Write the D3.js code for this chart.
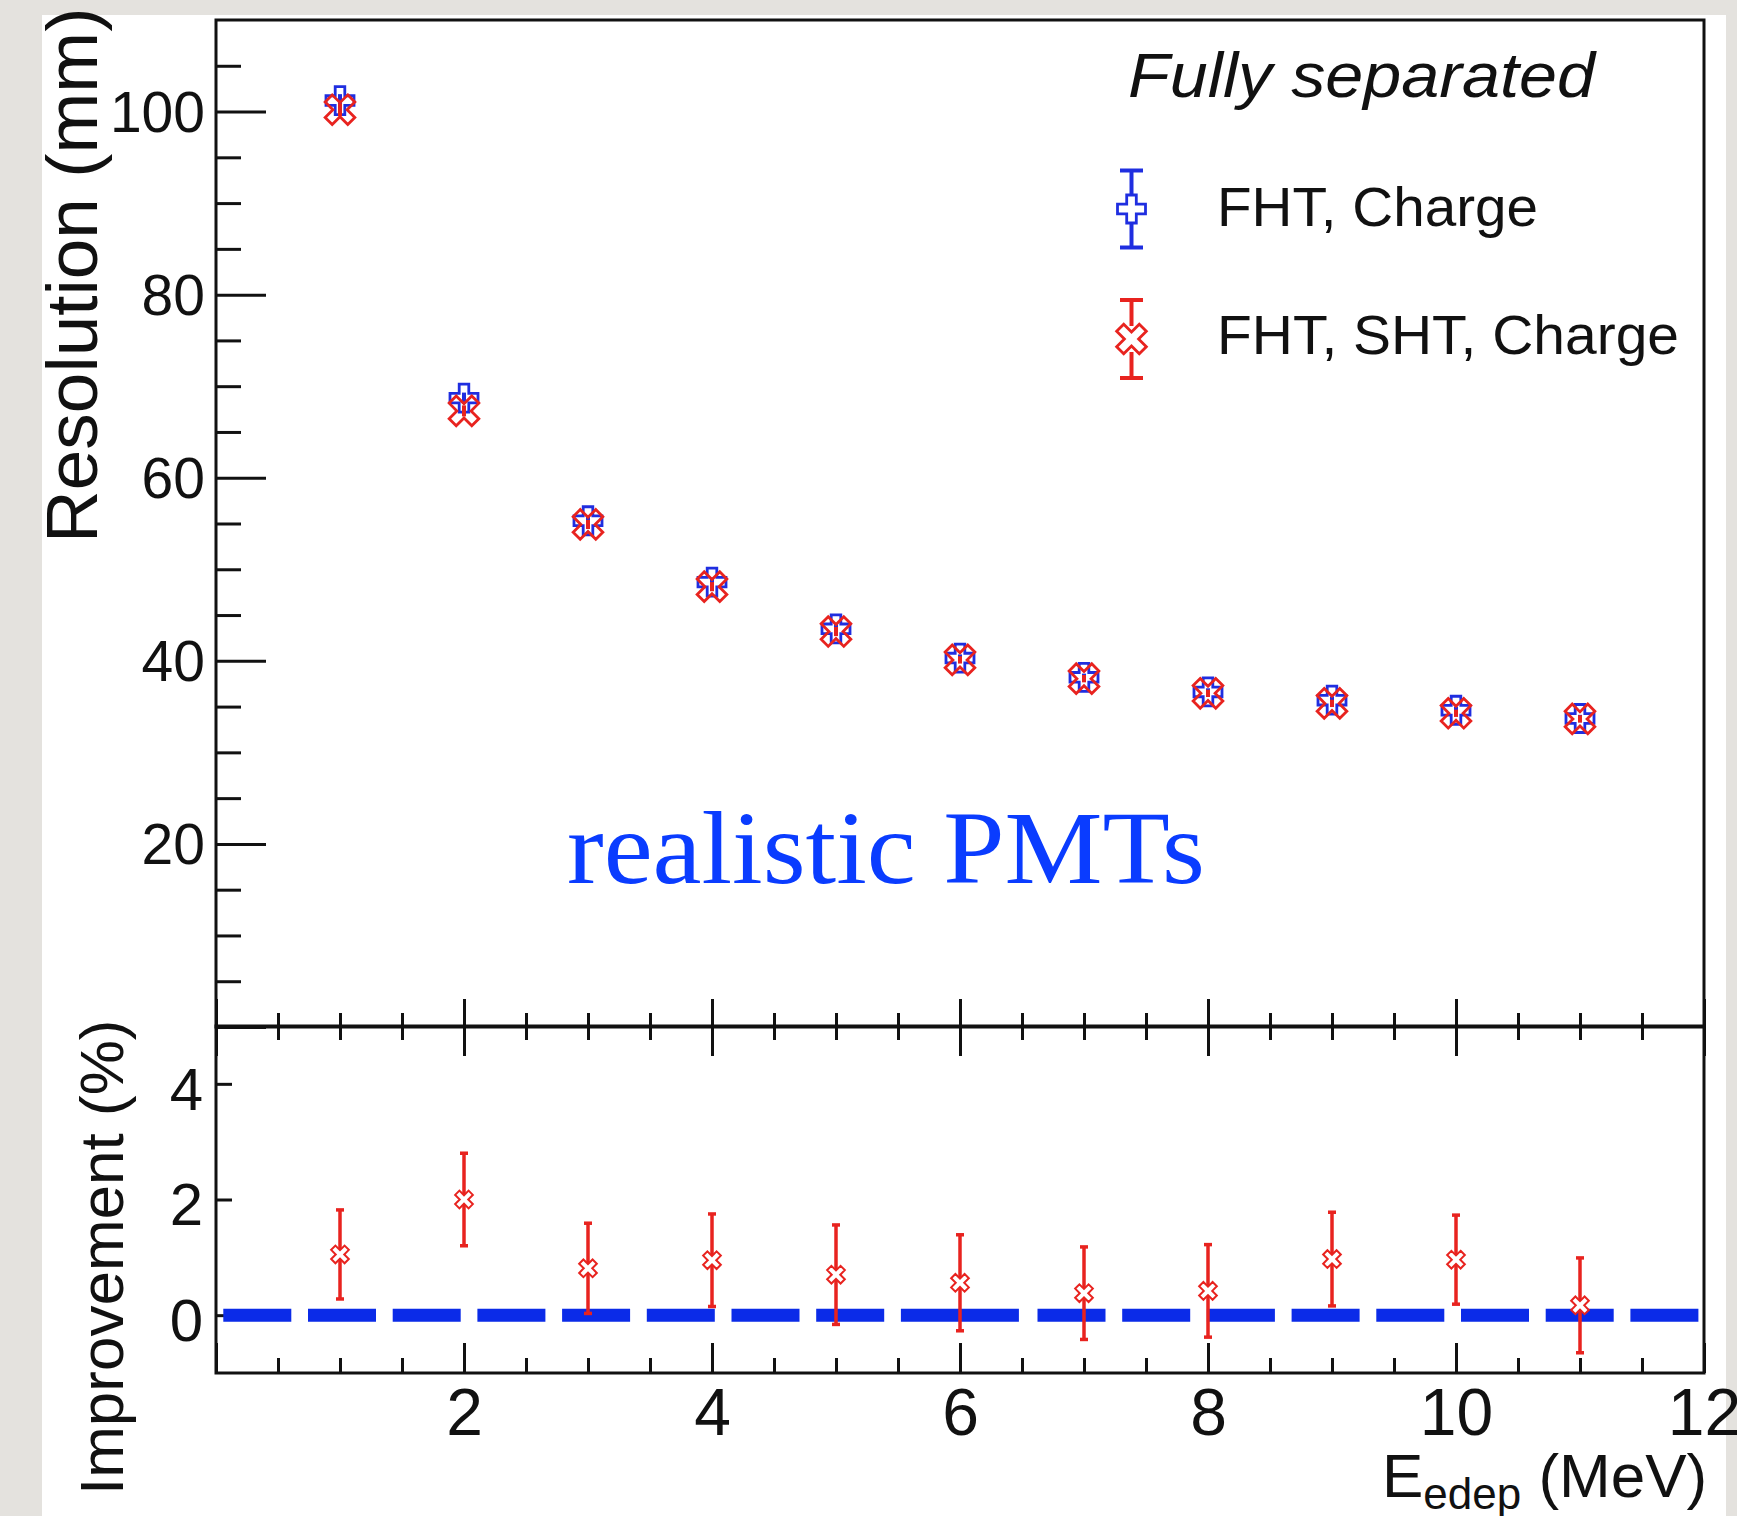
<!DOCTYPE html>
<html>
<head>
<meta charset="utf-8">
<script src="https://cdn.jsdelivr.net/npm/d3@7"></script>
<style>
  body { margin: 0; background: #e4e2de; }
  svg { display: block; }
  text { font-family: "Liberation Sans", Arial, Helvetica, sans-serif; fill: #111; }
</style>
</head>
<body>
<svg id="chart" width="1737" height="1516"></svg>
<script>
// ---- data ----
const energies = [1, 2, 3, 4, 5, 6, 7, 8, 9, 10, 11];               // E_edep (MeV)
const resFhtCharge = [101.2, 68.7, 55.3, 48.6, 43.5, 40.3, 38.2, 36.6, 35.7, 34.6, 33.7];   // mm
const resFhtChargeErr = [0.7, 0.6, 0.5, 0.5, 0.5, 0.4, 0.4, 0.4, 0.4, 0.4, 0.4];
const resFhtShtCharge = [100.2, 67.3, 54.9, 48.1, 43.2, 40.1, 38.05, 36.45, 35.35, 34.27, 33.65];
const resFhtShtChargeErr = [0.7, 0.6, 0.5, 0.5, 0.5, 0.4, 0.4, 0.4, 0.4, 0.4, 0.4];
const improvement = [1.05, 2.0, 0.81, 0.95, 0.70, 0.56, 0.38, 0.42, 0.97, 0.96, 0.17];     // %
const improvementErr = [0.77, 0.80, 0.78, 0.80, 0.86, 0.83, 0.80, 0.80, 0.81, 0.77, 0.82];
const resMajorTicks = [0, 20, 40, 60, 80, 100];
const resMinorTicks = [5, 10, 15, 25, 30, 35, 45, 50, 55, 65, 70, 75, 85, 90, 95, 105];
const impTicks = [0, 2, 4];
const energyMajorTicks = [0, 2, 4, 6, 8, 10, 12];
const energyMinorTicks = [0.5, 1, 1.5, 2.5, 3, 3.5, 4.5, 5, 5.5, 6.5, 7, 7.5, 8.5, 9, 9.5, 10.5, 11, 11.5];
const seriesNames = ["FHT, Charge", "FHT, SHT, Charge"];
const legendTitle = "Fully separated";
const annotation = "realistic PMTs";

// ---- styles ----
const BLUE = "#1f2ee0";
const RED = "#e8231f";
const DASH_BLUE = "#0b2be8";
const INK = "#111";

const svg = d3.select("#chart");

// white canvas
svg.append("rect").attr("x", 42).attr("y", 15).attr("width", 1684).attr("height", 1501).attr("fill", "#fff");

// ---- scales ----
const x = d3.scaleLinear().domain([0, 12]).range([216, 1704]);
const yTop = d3.scaleLinear().domain([0, 110]).range([1027, 20]);
const yBot = d3.scaleLinear().domain([-1, 5]).range([1373, 1026]);

// ---- marker shapes ----
function plusPath(s, w) {
  const p = [[-w,-s],[w,-s],[w,-w],[s,-w],[s,w],[w,w],[w,s],[-w,s],[-w,w],[-s,w],[-s,-w],[-w,-w]];
  return "M" + p.map(d => d.join(",")).join("L") + "Z";
}
function crossXPath(s, w) {
  const c = Math.SQRT1_2;
  const p = [[-w,-s],[w,-s],[w,-w],[s,-w],[s,w],[w,w],[w,s],[-w,s],[-w,w],[-s,w],[-s,-w],[-w,-w]]
    .map(([a, b]) => [(a - b) * c, (a + b) * c]);
  return "M" + p.map(d => d.map(v => v.toFixed(2)).join(",")).join("L") + "Z";
}
const plusBig = plusPath(14, 4.8);
const xBig = crossXPath(16, 5);
const xSmall = crossXPath(9.5, 3);

function styleAxis(g) {
  g.select(".domain").remove();
  g.selectAll(".tick line").attr("stroke", INK).attr("stroke-width", 3);
}

// ---- upper panel axes ----
svg.append("g").attr("transform", `translate(${x(0)},0)`)
  .call(d3.axisLeft(yTop).tickValues(resMajorTicks).tickSizeInner(-50).tickSizeOuter(0).tickPadding(11)
    .tickFormat(d => d === 0 ? "" : d3.format("d")(d)))
  .call(styleAxis)
  .call(g => g.selectAll("text").attr("font-size", 57).attr("dy", "0.35em").attr("fill", INK));
svg.append("g").attr("transform", `translate(${x(0)},0)`)
  .call(d3.axisLeft(yTop).tickValues(resMinorTicks).tickSizeInner(-25).tickSizeOuter(0).tickFormat(""))
  .call(styleAxis);
svg.append("g").attr("transform", `translate(0,${yTop(0)})`)
  .call(d3.axisTop(x).tickValues(energyMajorTicks).tickSizeInner(28).tickSizeOuter(0).tickFormat(""))
  .call(styleAxis);
svg.append("g").attr("transform", `translate(0,${yTop(0)})`)
  .call(d3.axisTop(x).tickValues(energyMinorTicks).tickSizeInner(14).tickSizeOuter(0).tickFormat(""))
  .call(styleAxis);

// ---- lower panel axes ----
svg.append("g").attr("transform", `translate(0,${yBot(5)})`)
  .call(d3.axisBottom(x).tickValues(energyMajorTicks).tickSizeInner(30).tickSizeOuter(0).tickFormat(""))
  .call(styleAxis);
svg.append("g").attr("transform", `translate(0,${yBot(5)})`)
  .call(d3.axisBottom(x).tickValues(energyMinorTicks).tickSizeInner(14).tickSizeOuter(0).tickFormat(""))
  .call(styleAxis);
svg.append("g").attr("transform", `translate(0,${yBot(-1)})`)
  .call(d3.axisBottom(x).tickValues(energyMajorTicks).tickSizeInner(-30).tickSizeOuter(0).tickPadding(15)
    .tickFormat(d => d === 0 ? "" : d3.format("d")(d)))
  .call(styleAxis)
  .call(g => g.selectAll("text").attr("font-size", 66).attr("fill", INK));
svg.append("g").attr("transform", `translate(0,${yBot(-1)})`)
  .call(d3.axisBottom(x).tickValues(energyMinorTicks).tickSizeInner(-15).tickSizeOuter(0).tickFormat(""))
  .call(styleAxis);
svg.append("g").attr("transform", `translate(${x(0)},0)`)
  .call(d3.axisLeft(yBot).tickValues(impTicks).tickSizeInner(-16).tickSizeOuter(0).tickPadding(13)
    .tickFormat(d3.format("d")))
  .call(styleAxis)
  .call(g => g.selectAll("text").attr("font-size", 60).attr("dy", "0.42em").attr("fill", INK));

// ---- frames ----
svg.append("rect").attr("x", x(0)).attr("y", yTop(110)).attr("width", x(12) - x(0)).attr("height", yTop(0) - yTop(110))
  .attr("fill", "none").attr("stroke", INK).attr("stroke-width", 3);
svg.append("rect").attr("x", x(0)).attr("y", yBot(5)).attr("width", x(12) - x(0)).attr("height", yBot(-1) - yBot(5))
  .attr("fill", "none").attr("stroke", INK).attr("stroke-width", 3);

// ---- upper panel: resolution points ----
function drawSeries(vals, errs, color, shape) {
  const g = svg.append("g");
  g.selectAll("line.err").data(energies).join("line")
    .attr("x1", d => x(d)).attr("x2", d => x(d))
    .attr("y1", (d, i) => yTop(vals[i] - errs[i])).attr("y2", (d, i) => yTop(vals[i] + errs[i]))
    .attr("stroke", color).attr("stroke-width", 4);
  g.selectAll("path.mk").data(energies).join("path")
    .attr("d", shape)
    .attr("transform", (d, i) => `translate(${x(d)},${yTop(vals[i])})`)
    .attr("fill", "none").attr("stroke", color).attr("stroke-width", 2.8).attr("stroke-linejoin", "miter");
}
drawSeries(resFhtCharge, resFhtChargeErr, BLUE, plusBig);
drawSeries(resFhtShtCharge, resFhtShtChargeErr, RED, xBig);

// ---- annotation ----
svg.append("text").attr("x", 567).attr("y", 883)
  .attr("font-family", "'Liberation Serif', 'DejaVu Serif', serif")
  .attr("font-size", 104).attr("textLength", 638).attr("lengthAdjust", "spacingAndGlyphs")
  .style("font-family", "'Liberation Serif', 'DejaVu Serif', serif")
  .attr("fill", "#0a3cff").style("fill", "#0a3cff")
  .text(annotation);

// ---- legend ----
svg.append("text").attr("x", 1128).attr("y", 97)
  .attr("font-size", 63).attr("font-style", "italic").attr("textLength", 467).attr("lengthAdjust", "spacingAndGlyphs")
  .text(legendTitle);

const legendRows = [
  { name: seriesNames[0], color: BLUE, shape: plusBig, cy: 209, half: 38.5, textY: 226, len: 321 },
  { name: seriesNames[1], color: RED, shape: xBig, cy: 339, half: 39, textY: 354, len: 462 }
];
const lg = svg.append("g");
legendRows.forEach(r => {
  const cx = 1131.5;
  lg.append("line").attr("x1", cx).attr("x2", cx).attr("y1", r.cy - r.half).attr("y2", r.cy - 13)
    .attr("stroke", r.color).attr("stroke-width", 4);
  lg.append("line").attr("x1", cx).attr("x2", cx).attr("y1", r.cy + 13).attr("y2", r.cy + r.half)
    .attr("stroke", r.color).attr("stroke-width", 4);
  [r.cy - r.half, r.cy + r.half].forEach(yy =>
    lg.append("line").attr("x1", cx - 11.5).attr("x2", cx + 11.5).attr("y1", yy).attr("y2", yy)
      .attr("stroke", r.color).attr("stroke-width", 4));
  lg.append("path").attr("d", r.shape).attr("transform", `translate(${cx},${r.cy})`)
    .attr("fill", "#fff").attr("stroke", r.color).attr("stroke-width", 2.8);
  lg.append("text").attr("x", 1217).attr("y", r.textY).attr("font-size", 55)
    .attr("textLength", r.len).attr("lengthAdjust", "spacingAndGlyphs").text(r.name);
});

// ---- lower panel: reference line at zero ----
// dash pattern along the line (pixel lengths): leading gap, regular dashes, one long dash, regular dashes
const dashPattern = [0, 7.3];
for (let k = 0; k < 8; k++) dashPattern.push(68, 16.7);
dashPattern.push(118, 18.6);
for (let k = 0; k < 9; k++) dashPattern.push(68, 16.7);
svg.append("line")
  .attr("x1", x(0)).attr("x2", x(12)).attr("y1", yBot(0)).attr("y2", yBot(0))
  .attr("stroke", DASH_BLUE).attr("stroke-width", 13)
  .attr("stroke-dasharray", dashPattern.join(" "));

// ---- lower panel: improvement points ----
const lowG = svg.append("g");
lowG.selectAll("line.err").data(energies).join("line")
  .attr("x1", d => x(d)).attr("x2", d => x(d))
  .attr("y1", (d, i) => yBot(improvement[i] - improvementErr[i]))
  .attr("y2", (d, i) => yBot(improvement[i] + improvementErr[i]))
  .attr("stroke", RED).attr("stroke-width", 3.5);
energies.forEach((d, i) => {
  [improvement[i] - improvementErr[i], improvement[i] + improvementErr[i]].forEach(v =>
    lowG.append("line").attr("x1", x(d) - 4).attr("x2", x(d) + 4).attr("y1", yBot(v)).attr("y2", yBot(v))
      .attr("stroke", RED).attr("stroke-width", 3.5));
});
lowG.selectAll("path.mk").data(energies).join("path")
  .attr("d", xSmall)
  .attr("transform", (d, i) => `translate(${x(d)},${yBot(improvement[i])})`)
  .attr("fill", "#fff").attr("stroke", RED).attr("stroke-width", 2);

// ---- axis titles ----
svg.append("text").attr("transform", "translate(97,543) rotate(-90)")
  .attr("font-size", 73).text("Resolution (mm)");
svg.append("text").attr("transform", "translate(123,1495) rotate(-90)")
  .attr("font-size", 62).text("Improvement (%)");
const xt = svg.append("text").attr("x", 1382).attr("y", 1497).attr("font-size", 62);
xt.append("tspan").text("E");
xt.append("tspan").attr("font-size", 44).attr("dy", 12).text("edep");
xt.append("tspan").attr("dy", -12).text(" (MeV)");
</script>
</body>
</html>
